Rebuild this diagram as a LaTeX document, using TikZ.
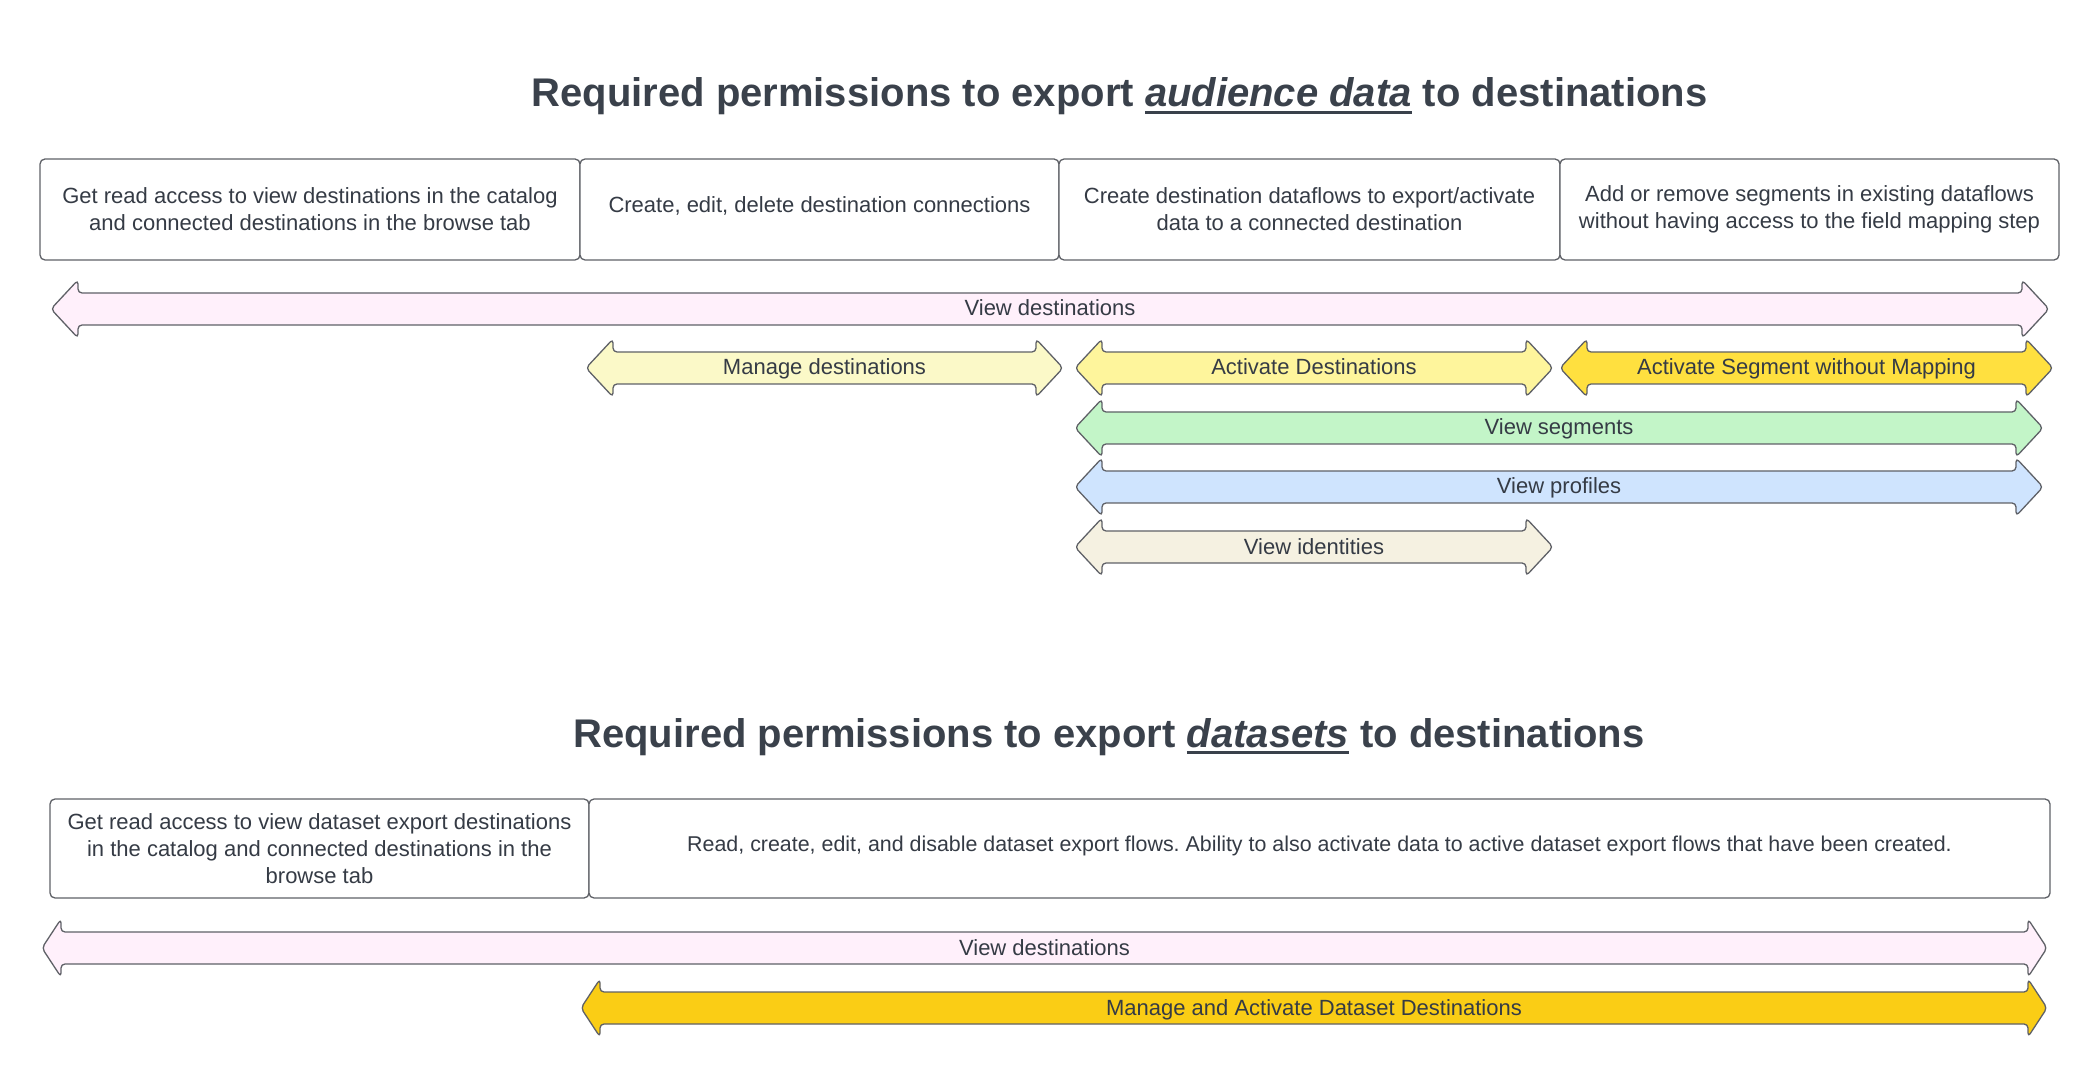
\documentclass[tikz,border=0pt]{standalone}
\usepackage{fontspec}
\setmainfont{Liberation Sans}
\frenchspacing
\definecolor{txt}{HTML}{353B45}
\definecolor{ttl}{HTML}{3A414B}
\definecolor{strk}{HTML}{5F6167}
\definecolor{cpink}{HTML}{FFF0FB}
\definecolor{cpaley}{HTML}{FBF9C8}
\definecolor{cyel}{HTML}{FEF59C}
\definecolor{cgold}{HTML}{FFE03F}
\definecolor{cgreen}{HTML}{C3F5C8}
\definecolor{cblue}{HTML}{CFE4FE}
\definecolor{cbeige}{HTML}{F5F1E1}
\definecolor{cdark}{HTML}{FACD15}
\newcommand{\ulx}[1]{\setbox0\hbox{#1}\rlap{\rule[-3.5pt]{\wd0}{1.5pt}}\box0}
\tikzset{
  arrowshape/.style={draw=strk, line width=0.65pt, rounded corners=2pt, line join=round},
  lbl/.style={anchor=base, inner sep=0pt, text=txt, font=\fontsize{11}{13.5}\selectfont},
  pbox/.style={draw=strk, line width=0.65pt, rounded corners=2.5pt, fill=white, align=center,
    text=txt, inner sep=0pt, font=\fontsize{11}{13.5}\selectfont},
  ptext/.style={anchor=center, inner sep=0pt, text=txt, align=center, font=\fontsize{11}{13.5}\selectfont},
  ttlstyle/.style={anchor=base, inner sep=0pt, text=ttl, font=\fontsize{20}{24}\selectfont\bfseries}
}
% name, x1, x2, yc, head length, fill, text
\newcommand{\dblarrow}[7]{%
  \path[arrowshape, fill=#6] ({(#2+#3)/2},{#4-16}) -- ({#3-#5},{#4-16}) -- ({#3-#5},{#4-29}) -- (#3,#4)
    -- ({#3-#5},{#4+29}) -- ({#3-#5},{#4+16}) -- ({#2+#5},{#4+16}) -- ({#2+#5},{#4+29})
    -- (#2,#4) -- ({#2+#5},{#4-29}) -- ({#2+#5},{#4-16}) -- cycle;
  \node[lbl] (#1) at ({(#2+#3)/2},{#4+7}) {#7};}
\begin{document}
\begin{tikzpicture}[x=0.5pt, y=-0.5pt]
\useasboundingbox (0,0) rectangle (2100,1080);

% ---------- section 1 ----------
\node[ttlstyle] (t1) at (1119.5,107) {Required permissions to export \ulx{\itshape audience data}\ to destinations};

\node[pbox, minimum width=270pt, minimum height=50.5pt] (b1) at (310,209.5)
  {Get read access to view destinations in the catalog\\and connected destinations in the browse tab};
\node[pbox, minimum width=239.5pt, minimum height=50.5pt] (b2) at (819.5,209.5) {};
\node[ptext] (b2t) at (819.5,205.5) {Create, edit, delete destination connections};
\node[pbox, minimum width=250.5pt, minimum height=50.5pt] (b3) at (1309.5,209.5)
  {Create destination dataflows to export/activate\\data to a connected destination};
\node[pbox, minimum width=249.5pt, minimum height=50.5pt] (b4) at (1809.5,209.5)
  {Add or remove segments in existing dataflows\\without having access to the field mapping step};

\dblarrow{a1}{51}{2049}{309}{27}{cpink}{View destinations}
\dblarrow{a2}{586}{1063}{368}{27}{cpaley}{Manage destinations}
\dblarrow{a3}{1075}{1553}{368}{27}{cyel}{Activate Destinations}
\dblarrow{a4}{1560}{2053}{368}{27}{cgold}{Activate Segment without Mapping}
\dblarrow{a5}{1075}{2043}{428}{27}{cgreen}{View segments}
\dblarrow{a6}{1075}{2043}{487}{27}{cblue}{View profiles}
\dblarrow{a7}{1075}{1553}{547}{27}{cbeige}{View identities}

% ---------- section 2 ----------
\node[ttlstyle] (t2) at (1109,747) {Required permissions to export \ulx{\itshape datasets}\ to destinations};

\node[pbox, minimum width=269.5pt, minimum height=49.5pt] (c1) at (319.5,848.5)
  {Get read access to view dataset export destinations\\in the catalog and connected destinations in the\\browse tab};
\node[pbox, minimum width=730.5pt, minimum height=49.5pt] (c2) at (1319.5,848.5) {};
\node[ptext, font=\fontsize{10.7}{13.5}\selectfont] (c2t) at (1319.5,845.5)
  {Read, create, edit, and disable dataset export flows. Ability to also activate data to active dataset export flows that have been created.};

\dblarrow{d1}{42}{2047}{948}{19}{cpink}{View destinations}
\dblarrow{d2}{581}{2047}{1008}{19}{cdark}{Manage and Activate Dataset Destinations}
\end{tikzpicture}
\end{document}
